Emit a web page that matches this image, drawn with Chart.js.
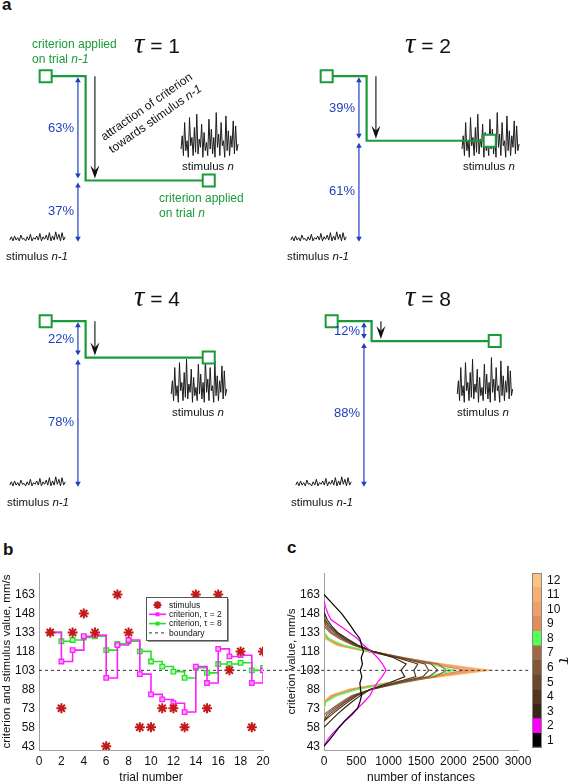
<!DOCTYPE html>
<html>
<head>
<meta charset="utf-8">
<title>Criterion attraction toward previous stimulus</title>
<script src="https://cdn.jsdelivr.net/npm/chart.js@4.4.1/dist/chart.umd.min.js"></script>
<style>
  html, body { margin: 0; padding: 0; background: #fff; width: 575px; height: 782px; overflow: hidden; }
  body { position: relative; font-family: "Liberation Sans", Arial, sans-serif; color: #111; }
  canvas { position: absolute; }
  .lbl { position: absolute; white-space: nowrap; line-height: 1; }
  .c { transform: translate(-50%, -50%); }
  .panel { position: absolute; font-weight: bold; font-size: 17px; line-height: 1; }
  .stim { font-size: 11.5px; }
  .grn { color: #1a9a3a; font-size: 12px; line-height: 14.5px; }
  .rot { font-size: 12px; line-height: 15px; text-align: center; transform: translate(-50%, -50%) rotate(-35deg); }
  .title { font-size: 21px; }
  .title .tau { font-family: "Liberation Serif", serif; font-style: italic; font-size: 29px; }
</style>
</head>
<body>
<div class="panel" style="left:2px;top:-4px">a</div>
<div class="panel" style="left:3px;top:541px">b</div>
<div class="panel" style="left:287px;top:539px">c</div>

<canvas id="a1" width="287" height="255" style="left:0;top:0"></canvas>
<canvas id="a2" width="287" height="255" style="left:281px;top:0"></canvas>
<canvas id="a3" width="287" height="255" style="left:0;top:245px"></canvas>
<canvas id="a4" width="287" height="255" style="left:286px;top:245px"></canvas>
<canvas id="b" width="290" height="245" style="left:0;top:540px"></canvas>
<canvas id="c" width="290" height="245" style="left:285px;top:540px"></canvas>
<canvas id="cbar" width="50" height="200" style="left:525px;top:560px"></canvas>

<div class="lbl grn" style="left:32px;top:37px">criterion applied<br>on trial <i>n-1</i></div>
<div class="lbl grn" style="left:159px;top:191px">criterion applied<br>on trial <i>n</i></div>
<div class="lbl rot" style="left:151px;top:113px">attraction of criterion<br>towards stimulus <i>n-1</i></div>

<div class="lbl c stim" style="left:37px;top:257px">stimulus <i>n-1</i></div>
<div class="lbl c stim" style="left:318px;top:257px">stimulus <i>n-1</i></div>
<div class="lbl c stim" style="left:38px;top:503px">stimulus <i>n-1</i></div>
<div class="lbl c stim" style="left:322px;top:503px">stimulus <i>n-1</i></div>
<div class="lbl c stim" style="left:208px;top:167px">stimulus <i>n</i></div>
<div class="lbl c stim" style="left:489px;top:167px">stimulus <i>n</i></div>
<div class="lbl c stim" style="left:198px;top:413px">stimulus <i>n</i></div>
<div class="lbl c stim" style="left:483px;top:413px">stimulus <i>n</i></div>

<script>
// ---- panel a: schematic ----
const tauValues = [1, 2, 4, 8];
const pullPct = [63, 39, 22, 12];   // % of the distance moved toward stimulus n-1
// noisy stimulus traces (criterion units)
const waveN = [56, 64, 52, 72, 55, 61, 51, 75, 58, 63, 52, 69, 54, 77, 53, 62, 57, 71, 51, 66, 55, 60, 52, 74,
               56, 68, 53, 63, 51, 78, 57, 65, 52, 72, 58, 61, 51, 76, 55, 67, 52, 64, 57, 73, 53, 70, 55, 59];
const wavePrev = [1, 3, 0.5, 3.5, 1, 2.5, 0.5, 4, 1.5, 2, 0.5, 3, 1, 4.5, 0.5, 2.5, 1.5, 3.5,
                  1, 5, 0.5, 3, 1.5, 4, 1, 5.5, 0.5, 3.5, 1, 6, 1.5, 4.5, 0.5, 5.5, 1, 3];

// ---- panel b: example trial sequence ----
const trials = [1, 2, 3, 4, 5, 6, 7, 8, 9, 10, 11, 12, 13, 14, 15, 16, 17, 18, 19, 20];
const stimulus = [133, 73, 133, 148, 133, 43, 163, 133, 58, 58, 73, 73, 58, 163, 73, 163, 103, 118, 58, 118];
const critTau2 = [133, 110, 119, 130, 131, 97, 123, 127, 100, 84, 80, 77, 70, 106, 93, 120, 114, 115, 93, 103];
const critTau8 = [133, 126, 127, 129, 130, 119, 124, 126, 118, 110, 106, 102, 97, 105, 101, 108, 108, 109, 103, 105];
const boundary = 103;
const yTicks = [43, 58, 73, 88, 103, 118, 133, 148, 163];

// ---- panel c: criterion histograms per tau ----
const yBins = [43, 48, 53, 58, 63, 68, 73, 78, 83, 88, 93, 98, 103, 108, 113, 118, 123, 128, 133, 138, 143, 148, 153, 158, 163];
const countsTau1 = [0, 85, 160, 235, 320, 420, 520, 555, 580, 565, 555, 585, 560, 595, 575, 610, 580, 555, 480, 415, 345, 270, 180, 90, 0];
const countsTau2 = [0, 55, 130, 230, 330, 440, 520, 620, 710, 760, 820, 900, 960, 905, 830, 730, 610, 520, 390, 250, 110, 60, 25, 0, null];
const countsTau3 = [null, null, null, 0, 100, 200, 310, 430, 560, 720, 1000, 1250, 1190, 1270, 1080, 750, 520, 360, 210, 120, 50, 10, 0, null, null];
const countsTau4 = [null, null, null, null, 0, 120, 240, 370, 510, 720, 1080, 1420, 1390, 1450, 1130, 750, 500, 330, 190, 90, 20, 0, null, null, null];
const countsTau5 = [null, null, null, null, 0, 80, 200, 330, 480, 730, 1120, 1530, 1620, 1560, 1160, 750, 480, 300, 160, 60, 0, null, null, null, null];
const countsTau6 = [null, null, null, null, 0, 40, 160, 300, 450, 730, 1160, 1620, 1760, 1660, 1190, 750, 460, 270, 120, 30, 0, null, null, null, null];
const countsTau7 = [null, null, null, null, null, 0, 130, 270, 430, 730, 1200, 1720, 1890, 1770, 1230, 750, 440, 240, 90, 0, null, null, null, null, null];
const countsTau8 = [null, null, null, null, null, null, 0, 30, 200, 520, 1050, 1600, 2010, 1640, 1170, 700, 300, 80, 0, null, null, null, null, null, null];
const countsTau9 = [null, null, null, null, null, null, 0, 20, 160, 470, 1020, 1650, 2180, 1700, 1170, 680, 260, 70, 0, null, null, null, null, null, null];
const countsTau10 = [null, null, null, null, null, null, null, 0, 130, 440, 1000, 1700, 2330, 1760, 1180, 670, 230, 50, 0, null, null, null, null, null, null];
const countsTau11 = [null, null, null, null, null, null, null, 0, 110, 420, 990, 1740, 2460, 1800, 1190, 660, 210, 40, 0, null, null, null, null, null, null];
const countsTau12 = [null, null, null, null, null, null, null, 0, 100, 400, 980, 1780, 2560, 1830, 1200, 650, 190, 30, 0, null, null, null, null, null, null];
const tauLevels = [1, 2, 3, 4, 5, 6, 7, 8, 9, 10, 11, 12];
const tauColors = ['#000000', '#ff00ff', '#3b2516', '#543620', '#6c462c', '#845638', '#a06a47', '#55ff55',
                   '#e08c5c', '#f09f68', '#f7ae72', '#fdc37f'];

Chart.defaults.font.family = '"Liberation Sans", Arial, sans-serif';
Chart.defaults.font.size = 12;
Chart.defaults.color = '#111';
Chart.defaults.animation = false;
Chart.defaults.events = [];
Chart.defaults.layout.autoPadding = false;
Chart.defaults.plugins.legend.display = false;
Chart.defaults.plugins.tooltip.enabled = false;

const GREEN = '#1a9a3a';
const BLUE = '#1f3fc0';

function arrowHead(ctx, x, tipY, dir, halfW, len, notch) {
  ctx.beginPath();
  ctx.moveTo(x, tipY);
  ctx.lineTo(x - halfW, tipY - dir * len);
  ctx.lineTo(x, tipY - dir * notch);
  ctx.lineTo(x + halfW, tipY - dir * len);
  ctx.closePath();
  ctx.fill();
}

// arrows and percentages for the schematic
const schematicMarks = {
  id: 'schematicMarks',
  afterDatasetsDraw(chart, args, opts) {
    const {ctx, scales: {x, y}} = chart;
    const top = y.getPixelForValue(100);
    const mid = y.getPixelForValue(100 - opts.pct);
    const bot = y.getPixelForValue(0);
    ctx.save();
    // black attraction arrow
    const ax = x.getPixelForValue(opts.arrowX);
    ctx.strokeStyle = '#333';
    ctx.fillStyle = '#111';
    ctx.lineWidth = 1.3;
    ctx.beginPath();
    ctx.moveTo(ax, top);
    ctx.lineTo(ax, mid - 6);
    ctx.stroke();
    arrowHead(ctx, ax, mid - 2, 1, 4.5, 13, 8);
    // blue double arrows
    const bx = x.getPixelForValue(opts.blueX);
    ctx.strokeStyle = BLUE;
    ctx.fillStyle = BLUE;
    ctx.lineWidth = 1.2;
    [[top + 1, mid - 2], [mid + 2, bot]].forEach(([a, b]) => {
      ctx.beginPath();
      ctx.moveTo(bx, a + 3);
      ctx.lineTo(bx, b - 3);
      ctx.stroke();
      arrowHead(ctx, bx, a, -1, 2.8, 5, 5);
      arrowHead(ctx, bx, b, 1, 2.8, 5, 5);
    });
    ctx.font = '13px "Liberation Sans", Arial, sans-serif';
    ctx.textAlign = 'right';
    ctx.textBaseline = 'middle';
    ctx.fillText(opts.pct + '%', bx - 4, (top + mid) / 2);
    ctx.fillText((100 - opts.pct) + '%', bx - 4, (mid + bot) / 2);
    ctx.restore();
  }
};

const panelLayout = [
  {id: 'a1', waveFrom: 0.83, waveTo: 1.18, title: [157, 43]},
  {id: 'a2', waveFrom: 0.83, waveTo: 1.18, title: [428, 43]},
  {id: 'a3', waveFrom: 0.77, waveTo: 1.11, title: [157, 296]},
  {id: 'a4', waveFrom: 0.77, waveTo: 1.11, title: [428, 296]}
];
const turnX = 0.245, arrowX = 0.302, blueX = 0.198;

panelLayout.forEach((p, k) => {
  const newC = 100 - pullPct[k];
  const spread = (arr, from, to) => arr.map((v, i) => ({x: from + (to - from) * i / (arr.length - 1), y: v}));
  new Chart(document.getElementById(p.id), {
    type: 'scatter',
    data: {
      datasets: [
        { data: [{x: 0, y: 100}, {x: 1, y: newC}], pointStyle: 'rect', pointRadius: 8.5,
          pointBorderColor: GREEN, pointBackgroundColor: '#fff', pointBorderWidth: 2, showLine: false },
        { data: [{x: 0, y: 100}, {x: turnX, y: 100}, {x: turnX, y: newC}, {x: 1, y: newC}],
          showLine: true, borderColor: GREEN, borderWidth: 2.2, pointRadius: 0 },
        { data: spread(waveN, p.waveFrom, p.waveTo), showLine: true, borderColor: '#1c1c1c',
          borderWidth: 1, pointRadius: 0 },
        { data: spread(wavePrev, -0.22, 0.12), showLine: true, borderColor: '#1c1c1c',
          borderWidth: 1, pointRadius: 0 }
      ]
    },
    options: {
      responsive: false,
      layout: { padding: 0 },
      scales: {
        x: { type: 'linear', display: false, min: -0.28, max: 1.48 },
        y: { type: 'linear', display: false, min: -8, max: 146 }
      },
      plugins: { schematicMarks: { pct: pullPct[k], arrowX: arrowX, blueX: blueX } }
    },
    plugins: [schematicMarks]
  });
  const t = document.createElement('div');
  t.className = 'lbl c title';
  t.style.left = p.title[0] + 'px';
  t.style.top = p.title[1] + 'px';
  t.innerHTML = '<span class="tau">τ</span> = ' + tauValues[k];
  document.body.appendChild(t);
});

// ---- panel b ----
const axisColor = '#a0a0a0';
function fixedY(title, width) {
  return {
    type: 'linear', min: 40, max: 180,
    afterBuildTicks: s => { s.ticks = yTicks.map(v => ({value: v})); },
    afterFit: s => { s.width = width; },
    grid: { display: false, drawTicks: false },
    border: { color: axisColor },
    ticks: { padding: 4, font: { size: 12 } },
    title: { display: true, text: title, padding: 0, font: { size: 11.5 } }
  };
}

const bLegend = {
  id: 'bLegend',
  afterDraw(chart) {
    const ctx = chart.ctx;
    const ds = chart.data.datasets;
    const L = 146, T = 57, W = 81, H = 43;
    ctx.save();
    ctx.fillStyle = '#fff';
    ctx.fillRect(L, T, W, H);
    ctx.strokeStyle = '#555';
    ctx.lineWidth = 1;
    ctx.strokeRect(L + 0.5, T + 0.5, W, H);
    ctx.strokeStyle = '#999';
    ctx.beginPath();
    ctx.moveTo(L + W + 1.5, T + 2);
    ctx.lineTo(L + W + 1.5, T + H + 1.5);
    ctx.lineTo(L + 2, T + H + 1.5);
    ctx.stroke();
    ctx.font = '8.5px "Liberation Sans", Arial, sans-serif';
    ctx.textBaseline = 'middle';
    ds.forEach((d, i) => {
      const yy = T + 8 + i * 9.3;
      const x0 = L + 3, x1 = L + 20, xm = (x0 + x1) / 2;
      ctx.strokeStyle = d.borderColor;
      if (d.showLine) {
        ctx.lineWidth = d.borderWidth;
        ctx.setLineDash(d.borderDash || []);
        ctx.beginPath();
        ctx.moveTo(x0, yy);
        ctx.lineTo(x1, yy);
        ctx.stroke();
        ctx.setLineDash([]);
      }
      if (d.pointStyle === 'star') {
        const r = 4;
        ctx.lineWidth = d.borderWidth;
        ctx.beginPath();
        for (let a = 0; a < 4; a++) {
          const ang = a * Math.PI / 4;
          ctx.moveTo(xm - r * Math.cos(ang), yy - r * Math.sin(ang));
          ctx.lineTo(xm + r * Math.cos(ang), yy + r * Math.sin(ang));
        }
        ctx.stroke();
      } else if (d.pointStyle === 'rect') {
        ctx.fillStyle = d.pointBorderColor;
        ctx.fillRect(xm - 2, yy - 2, 4, 4);
      }
      ctx.fillStyle = '#111';
      ctx.fillText(d.label, L + 23, yy + 0.5);
    });
    ctx.restore();
  }
};

const pts = (xs, ys) => xs.map((v, i) => ({x: v, y: ys[i]}));
new Chart(document.getElementById('b'), {
  type: 'scatter',
  data: {
    datasets: [
      { label: 'stimulus', data: pts(trials, stimulus), pointStyle: 'star', pointRadius: 5,
        borderColor: '#c41a1a', pointBorderColor: '#c41a1a', borderWidth: 2, pointBorderWidth: 2, showLine: false },
      { label: 'criterion, τ = 2', data: pts(trials, critTau2), showLine: true, stepped: true,
        borderColor: '#ff1eff', borderWidth: 1.6, pointStyle: 'rect', pointRadius: 3.2,
        pointBorderColor: '#ff1eff', pointBackgroundColor: '#ffaaff', pointBorderWidth: 1.3 },
      { label: 'criterion, τ = 8', data: pts(trials, critTau8), showLine: true, stepped: true,
        borderColor: '#27e027', borderWidth: 1.6, pointStyle: 'rect', pointRadius: 3.2,
        pointBorderColor: '#27e027', pointBackgroundColor: '#b0ffb0', pointBorderWidth: 1.3 },
      { label: 'boundary', data: [{x: 0, y: boundary}, {x: 22.4, y: boundary}], showLine: true,
        borderColor: '#333', borderDash: [3, 3], borderWidth: 1, pointRadius: 0, clip: false }
    ]
  },
  options: {
    responsive: false,
    layout: { padding: { top: 33, right: 27, left: 0, bottom: 0 } },
    scales: {
      x: { type: 'linear', min: 0, max: 20,
        afterFit: s => { s.height = 35; },
        grid: { display: false, drawTicks: false },
        border: { color: axisColor },
        ticks: { stepSize: 2, padding: 4, maxRotation: 0, autoSkip: false },
        title: { display: true, text: 'trial number', padding: 0, font: { size: 12 } } },
      y: fixedY('criterion and stimulus value, mm/s', 39)
    }
  },
  plugins: [bLegend]
});

// ---- panel c ----
const countsByTau = [countsTau1, countsTau2, countsTau3, countsTau4, countsTau5, countsTau6,
                     countsTau7, countsTau8, countsTau9, countsTau10, countsTau11, countsTau12];
const cSets = [{ data: [{x: -600, y: boundary}, {x: 3185, y: boundary}], showLine: true,
  borderColor: '#333', borderDash: [3, 3], borderWidth: 1, pointRadius: 0, clip: false }];
countsByTau.forEach((cnt, i) => {
  cSets.push({
    label: 'τ = ' + tauLevels[i],
    data: yBins.map((yv, j) => cnt[j] === null ? null : {x: cnt[j], y: yv}).filter(Boolean),
    showLine: true, borderColor: tauColors[i], borderWidth: i >= 8 ? 1.5 : 1.2, pointRadius: 0
  });
});
new Chart(document.getElementById('c'), {
  type: 'scatter',
  data: { datasets: cSets },
  options: {
    responsive: false,
    layout: { padding: { top: 33, right: 57, left: 0, bottom: 0 } },
    scales: {
      x: { type: 'linear', min: 0, max: 3000,
        afterFit: s => { s.height = 35; },
        grid: { display: false, drawTicks: false },
        border: { color: axisColor },
        ticks: { stepSize: 500, padding: 4, maxRotation: 0, autoSkip: false, callback: v => String(v) },
        title: { display: true, text: 'number of instances', padding: 0, font: { size: 12 } } },
      y: fixedY('criterion value, mm/s', 39)
    }
  }
});

// ---- colorbar ----
const cbarFrame = {
  id: 'cbarFrame',
  afterDraw(chart) {
    const {ctx, chartArea: a} = chart;
    ctx.save();
    ctx.strokeStyle = '#888';
    ctx.lineWidth = 1;
    ctx.strokeRect(a.left + 0.5, a.top + 0.5, a.right - a.left - 1, a.bottom - a.top - 1);
    ctx.restore();
  }
};
new Chart(document.getElementById('cbar'), {
  type: 'bar',
  data: {
    labels: [''],
    datasets: tauLevels.map((t, i) => ({ data: [1], backgroundColor: tauColors[i], borderWidth: 0,
      barPercentage: 1, categoryPercentage: 1 }))
  },
  options: {
    responsive: false,
    layout: { padding: { top: 13, bottom: 11, left: 7, right: 0 } },
    scales: {
      x: { display: false, stacked: true },
      y: { stacked: true, position: 'right', min: 0, max: tauLevels.length,
        afterBuildTicks: s => { s.ticks = tauLevels.map((t, i) => ({value: i + 0.5})); },
        afterFit: s => { s.width = 33; },
        grid: { display: false, drawTicks: false },
        border: { display: false },
        ticks: { padding: 5, autoSkip: false, callback: (v, i) => String(tauLevels[i]), font: { size: 12 } },
        title: { display: true, text: 'τ', padding: 0,
          font: { family: '"Liberation Serif", serif', style: 'italic', size: 19 } } }
    }
  },
  plugins: [cbarFrame]
});
</script>
</body>
</html>
